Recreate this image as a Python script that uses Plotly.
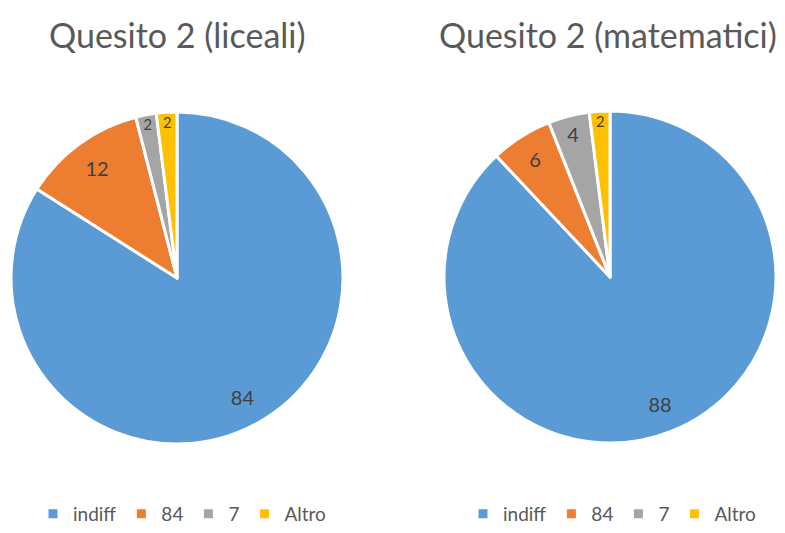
import plotly.graph_objects as go

categories = ["indiff", "84", "7", "Altro"]
liceali_values = [84, 12, 2, 2]
matematici_values = [88, 6, 4, 2]
titles = ["Quesito 2 (liceali)", "Quesito 2 (matematici)"]
colors = ["#5B9BD5", "#ED7D31", "#A5A5A5", "#FFC000"]

FONT = "Lato, 'Open Sans', sans-serif"
W, H = 785, 533


def dom(x0, x1, top, bottom):
    return dict(x=[x0 / W, x1 / W], y=[1 - bottom / H, 1 - top / H])


pies = [
    (liceali_values, dom(11, 343, 112, 444), "legend", categories),
    (matematici_values, dom(444, 776, 111, 443), "legend2",
     [c + "\u200b" for c in categories]),
]

fig = go.Figure()
for vals, d, leg, labs in pies:
    # coloured pie with legend
    fig.add_trace(go.Pie(
        labels=labs, values=vals, sort=False, direction="clockwise", rotation=0,
        marker=dict(colors=colors, line=dict(color="white", width=3)),
        textinfo="none", domain=d, legend=leg, hoverinfo="label+value",
    ))
    # transparent ring carrying the data labels near the outer edge
    fig.add_trace(go.Pie(
        labels=labs, values=vals, sort=False, direction="clockwise", rotation=0,
        hole=0.64, marker=dict(colors=["rgba(0,0,0,0)"] * 4,
                               line=dict(color="rgba(0,0,0,0)", width=0)),
        textinfo="value", textposition="inside", insidetextorientation="horizontal",
        textfont=dict(family=FONT, size=20, color="#404040"),
        domain=d, showlegend=False, hoverinfo="skip",
    ))

legend_common = dict(orientation="h", xanchor="center", yanchor="bottom",
                     font=dict(family=FONT, size=19, color="#595959"),
                     bgcolor="rgba(0,0,0,0)", itemwidth=30, tracegroupgap=0)
fig.update_layout(
    width=W, height=H, margin=dict(l=0, r=0, t=0, b=0),
    paper_bgcolor="white", plot_bgcolor="white",
    legend=dict(x=182 / W, y=0, **legend_common),
    legend2=dict(x=612 / W, y=0, **legend_common),
    annotations=[
        dict(text=titles[0], x=177 / W, y=1 - 34 / H, xref="paper", yref="paper",
             showarrow=False, xanchor="center", yanchor="middle",
             font=dict(family=FONT, size=34, color="#595959")),
        dict(text=titles[1], x=608 / W, y=1 - 34 / H, xref="paper", yref="paper",
             showarrow=False, xanchor="center", yanchor="middle",
             font=dict(family=FONT, size=34, color="#595959")),
    ],
)
fig.write_html("out.html", config={"displayModeBar": False},
               post_script="document.body.style.margin='0';")
